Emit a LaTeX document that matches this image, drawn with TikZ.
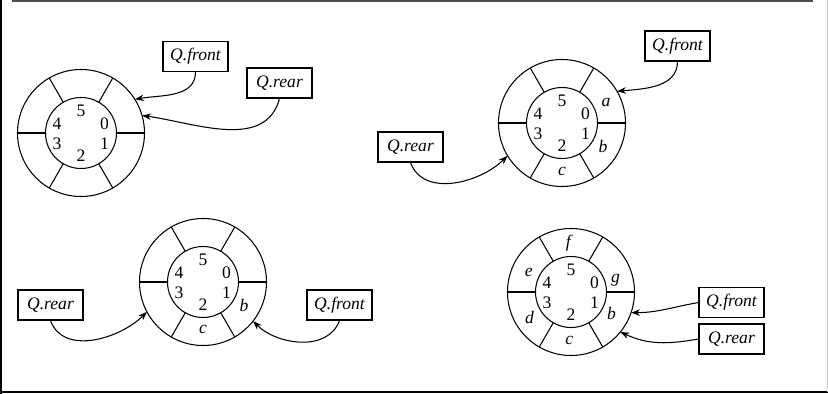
\documentclass[tikz,border=0pt]{standalone}
\usepackage{fontspec}
\setmainfont{Liberation Serif}
\usetikzlibrary{arrows.meta, calc}

\begin{document}
\begin{tikzpicture}[
  ring/.style={circle, draw, line width=0.6pt, minimum size=2.54cm, inner sep=0pt, outer sep=0pt},
  ptr/.style={rectangle, draw, line width=0.6pt, minimum width=1.3cm, minimum height=0.6cm, inner sep=2pt, font=\itshape},
  arrow/.style={-{Stealth[length=1.8mm, width=1.3mm]}, line width=0.6pt}
]
\useasboundingbox (0,0) rectangle (16.56,7.88);

% Page frame (left, top and bottom rules).
\draw[line width=0.8pt] (0.02,0) -- (0.02,7.88);
\draw[line width=0.8pt] (0,0.04) -- (16.56,0.04);
\draw[line width=0.8pt, black!70] (0.24,7.86) -- (16.26,7.86);
\draw[line width=0.4pt, black!20] (16.54,0.04) -- (16.54,7.88);

% Four circular queues of six cells each.
\foreach \q/\x/\y in {q1/1.62/5.22, q2/11.24/5.42, q3/4.06/2.24, q4/11.42/2.04} {
  \node[ring] (\q) at (\x,\y) {};
  \draw[line width=0.6pt] (\q.center) circle (0.71);
  \foreach \a in {0,60,...,300}
    \draw[line width=0.6pt] ($(\q.center)+(\a:0.71)$) -- (\q.\a);
  \foreach \i/\dx/\dy in {0/0.47/0.18, 1/0.47/-0.22, 2/0/-0.45, 3/-0.48/-0.22, 4/-0.48/0.18, 5/0/0.44}
    \node (\q-i\i) at ($(\q.center)+(\dx,\dy)$) {\i};
}

% Stored elements.
\node (q2-a) at ($(q2)+(25:0.97)$) {\textit{a}};
\node (q2-b) at ($(q2)+(-30:0.95)$) {\textit{b}};
\node (q2-c) at ($(q2)+(-90:0.97)$) {\textit{c}};
\node (q3-b) at ($(q3)+(-30:0.95)$) {\textit{b}};
\node (q3-c) at ($(q3)+(-90:0.95)$) {\textit{c}};
\node (q4-g) at ($(q4)+(15:0.92)$) {\textit{g}};
\node (q4-b) at ($(q4)+(-28:0.92)$) {\textit{b}};
\node (q4-c) at ($(q4)+(-92:0.96)$) {\textit{c}};
\node (q4-d) at ($(q4)+(-148:0.98)$) {\textit{d}};
\node (q4-e) at ($(q4)+(155:0.93)$) {\textit{e}};
\node (q4-f) at ($(q4)+(92:0.98)$) {\textit{f}};

% Front / rear pointers.
\node[ptr] (f1) at (3.91,6.75) {Q.front};
\node[ptr] (r1) at (5.59,6.22) {Q.rear};
\node[ptr] (f2) at (13.55,6.96) {Q.front};
\node[ptr] (r2) at (8.21,4.94) {Q.rear};
\node[ptr] (r3) at (1.01,1.78) {Q.rear};
\node[ptr] (f3) at (6.79,1.78) {Q.front};
\node[ptr] (f4) at (14.63,1.83) {Q.front};
\node[ptr] (r4) at (14.63,1.10) {Q.rear};

\draw[arrow] (f1.south) to[out=-90, in=10] (q1.32);
\draw[arrow] (r1.south) to[out=-105, in=-8] (q1.16);
\draw[arrow] (f2.south) to[out=-90, in=5] (q2.30);
\draw[arrow] (r2.south) to[out=-70, in=-135] (q2.-149);
\draw[arrow] (r3.south) to[out=-70, in=-135] (q3.-152);
\draw[arrow] (f3.south) to[out=-110, in=-45] (q3.-38);
\draw[arrow] (f4.west) to[out=190, in=0] (q4.-19);
\draw[arrow] (r4.west) to[out=190, in=-25] (q4.-39);

\end{tikzpicture}
\end{document}
